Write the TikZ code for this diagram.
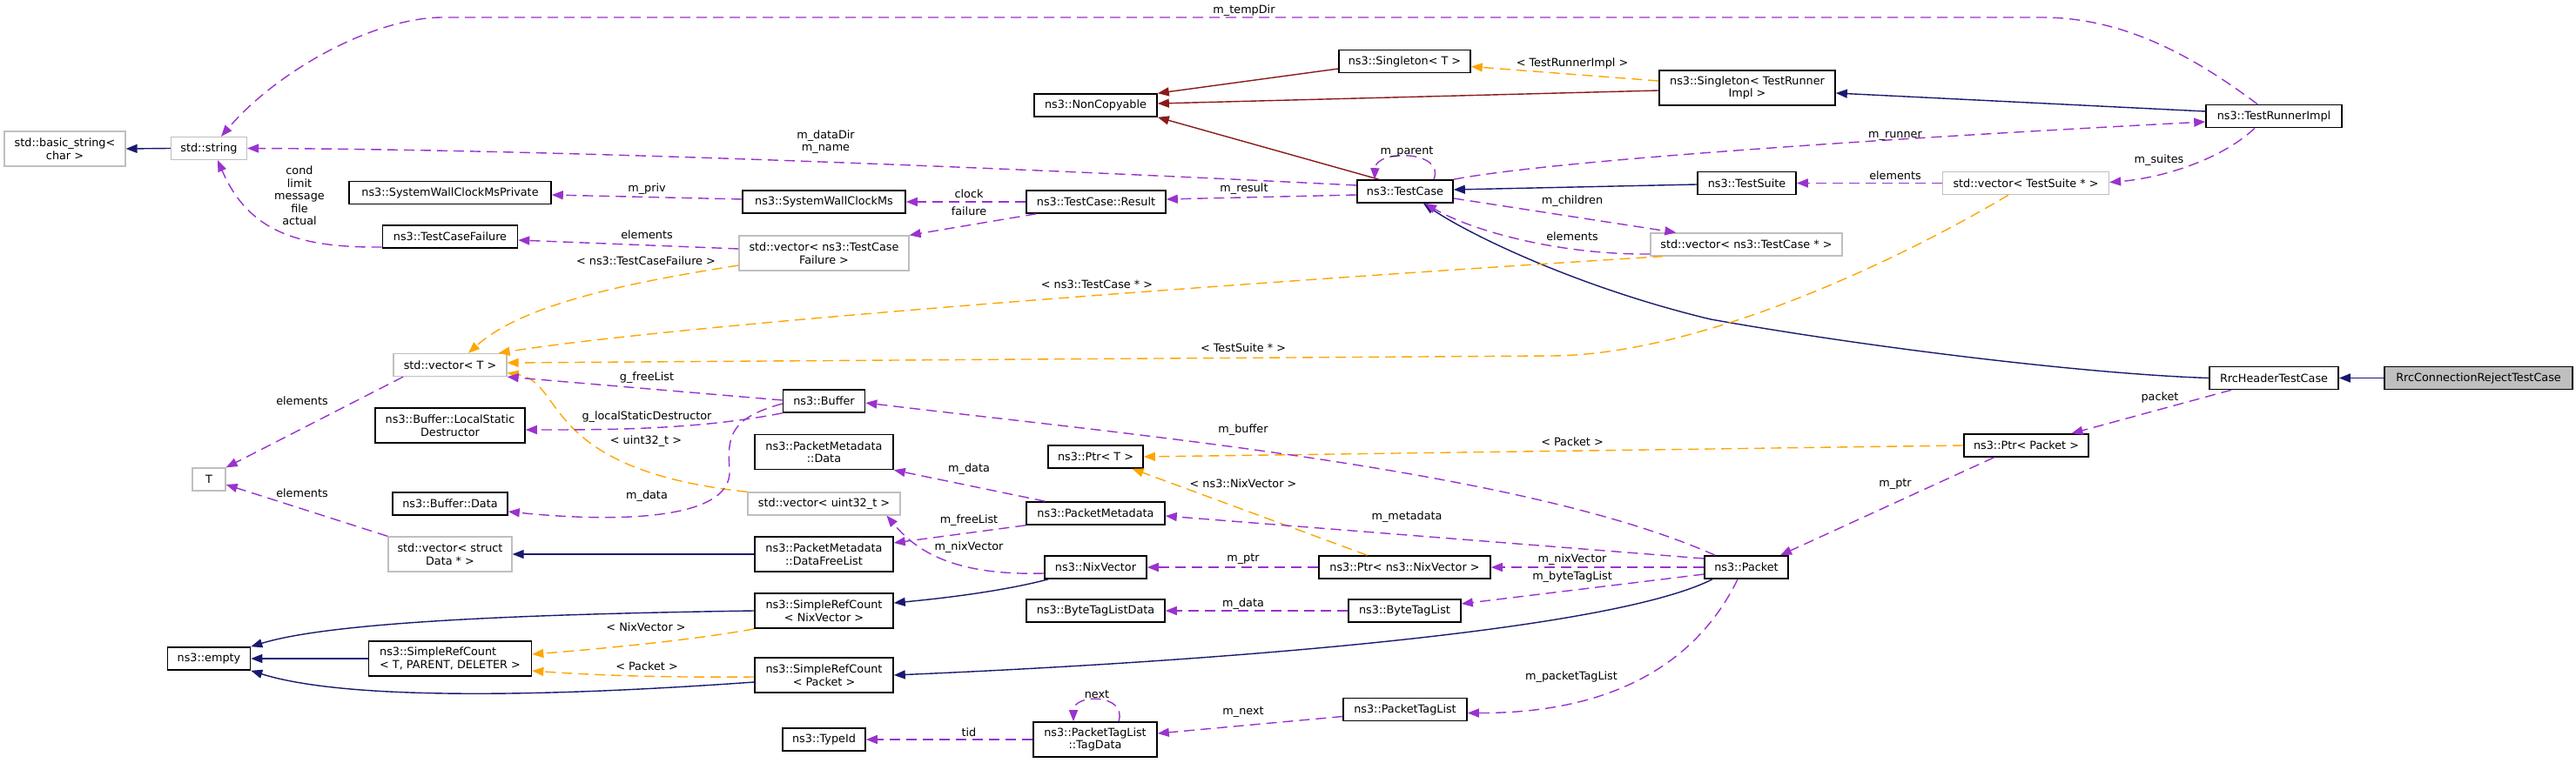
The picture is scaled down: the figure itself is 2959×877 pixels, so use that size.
\documentclass[tikz,border=0pt]{standalone}
\usepackage{fontspec}
\setmainfont{DejaVu Sans}
\usetikzlibrary{arrows.meta}

\definecolor{inhblue}{HTML}{191970}
\definecolor{privred}{HTML}{8B1A1A}
\definecolor{usepurple}{HTML}{9A32CD}
\definecolor{tplorange}{HTML}{FFA500}
\definecolor{extgray}{HTML}{BFBFBF}

\begin{document}
\begin{tikzpicture}[x=1pt, y=-1pt,
                every node/.style={align=center, inner sep=0pt, text=black,
                    font=\fontsize{12.8}{14.5}\selectfont},
                cls/.style={draw=black, line width=1.6pt, rectangle, minimum height=26pt},
                ext/.style={cls, draw=extgray, line width=1.3pt},
                two/.style={minimum height=40pt},
                lbl/.style={draw=none, fill=none},
                inh/.style={draw=inhblue, line width=1.4pt, -{Triangle[length=13pt,width=10pt]}},
                priv/.style={inh, draw=privred},
                dep/.style={inh, draw=usepurple, dash pattern=on 12pt off 7pt},
                tpl/.style={dep, draw=tplorange}
            ]

            \useasboundingbox[fill=white] (0,0) rectangle (2959,877);

            % Nodes
            \node[ext, two, minimum width=139] (basicStr) at (74.5,171) {std::basic\_string<\\char >};
            \node[ext, minimum width=87] (stdStr) at (240,170.5) {std::string};
            \node[cls, minimum width=141] (nonCopy) at (1258.5,121) {ns3::NonCopyable};
            \node[cls, minimum width=151] (singT) at (1613.5,70.5) {ns3::Singleton< T >};
            \node[cls, two, minimum width=202] (singTRI) at (2007,101) {ns3::Singleton< TestRunner\\Impl >};
            \node[cls, minimum width=156] (runner) at (2612,133.5) {ns3::TestRunnerImpl};
            \node[cls, minimum width=232] (swcmPriv) at (517,221.5) {ns3::SystemWallClockMsPrivate};
            \node[cls, minimum width=187] (swcm) at (946.5,232) {ns3::SystemWallClockMs};
            \node[cls, minimum width=160] (result) at (1259,232) {ns3::TestCase::Result};
            \node[cls, minimum width=110] (testCase) at (1614,220) {ns3::TestCase};
            \node[cls, minimum width=113] (testSuite) at (2006.5,210.5) {ns3::TestSuite};
            \node[ext, minimum width=191] (vecSuite) at (2327,210.5) {std::vector< TestSuite * >};
            \node[cls, minimum width=155] (tcFail) at (517,272) {ns3::TestCaseFailure};
            \node[ext, two, minimum width=195] (vecFail) at (946.5,291) {std::vector< ns3::TestCase\\Failure >};
            \node[ext, minimum width=220] (vecCase) at (2006,281) {std::vector< ns3::TestCase * >};
            \node[ext, minimum width=130] (vecT) at (517,419.5) {std::vector< T >};
            \node[cls, minimum width=148] (rrcHdr) at (2612,434.5) {RrcHeaderTestCase};
            \node[cls, fill=extgray, minimum width=216] (rrcRej) at (2847,434.5) {RrcConnectionRejectTestCase};
            \node[cls, minimum width=94] (buffer) at (946.5,461) {ns3::Buffer};
            \node[cls, two, minimum width=172] (lsd) at (517,489) {ns3::Buffer::LocalStatic\\Destructor};
            \node[ext, minimum width=38] (tBox) at (240,551) {T};
            \node[cls, two, minimum width=159] (pmData) at (946.5,519.5) {ns3::PacketMetadata\\::Data};
            \node[cls, minimum width=109] (ptrT) at (1258.5,525) {ns3::Ptr< T >};
            \node[cls, minimum width=143] (ptrPacket) at (2327.5,512) {ns3::Ptr< Packet >};
            \node[cls, minimum width=132] (bufData) at (517,579) {ns3::Buffer::Data};
            \node[ext, minimum width=175] (vecU32) at (946.5,579) {std::vector< uint32\_t >};
            \node[cls, minimum width=159] (pmeta) at (1258.5,590) {ns3::PacketMetadata};
            \node[ext, two, minimum width=142] (vecData) at (517,637) {std::vector< struct\\Data * >};
            \node[cls, two, minimum width=159] (dfl) at (946.5,637) {ns3::PacketMetadata\\::DataFreeList};
            \node[cls, minimum width=117] (nixVec) at (1258.5,652) {ns3::NixVector};
            \node[cls, minimum width=197] (ptrNix) at (1613.5,652) {ns3::Ptr< ns3::NixVector >};
            \node[cls, minimum width=96] (packet) at (2006,652) {ns3::Packet};
            \node[cls, two, minimum width=159] (srcNix) at (946.5,702) {ns3::SimpleRefCount\\< NixVector >};
            \node[cls, minimum width=159] (btlData) at (1258.5,702) {ns3::ByteTagListData};
            \node[cls, minimum width=129] (btl) at (1613.5,702) {ns3::ByteTagList};
            \node[cls, minimum width=95] (empty) at (240,757) {ns3::empty};
            \node[cls, two, minimum width=187, align=left] (srcT) at (517,757) {ns3::SimpleRefCount\\< T, PARENT, DELETER >};
            \node[cls, two, minimum width=159] (srcPacket) at (946.5,776) {ns3::SimpleRefCount\\< Packet >};
            \node[cls, minimum width=142] (ptl) at (1614,815.5) {ns3::PacketTagList};
            \node[cls, two, minimum width=142] (tagData) at (1258,850) {ns3::PacketTagList\\::TagData};
            \node[cls, minimum width=95] (typeId) at (946.5,850) {ns3::TypeId};

            % Edges: inheritance
            \draw[inh] (stdStr.west) -- (basicStr.east);
            \draw[inh] ([yshift=5.5]runner.west) -- ([yshift=-6]singTRI.east);
            \draw[inh] ([yshift=-1.5]testSuite.west) -- ([yshift=2]testCase.east);
            \draw[inh] (rrcHdr.west) .. controls (2400,430) and (2150,400) .. (1965,367)
                .. controls (1815,331) and (1690,271) .. ([xshift=21]testCase.south);
            \draw[inh] (rrcRej.west) -- (rrcHdr.east);
            \draw[inh] (dfl.west) -- (vecData.east);
            \draw[inh] ([xshift=5]nixVec.south west) .. controls (1150,680) and (1080,688) .. ([yshift=9]srcNix.east);
            \draw[inh] ([xshift=-39]packet.south) .. controls (1850,725) and (1400,760) .. (srcPacket.east);
            \draw[inh] (srcNix.west) .. controls (600,706) and (380,715) .. (empty.north east);
            \draw[inh] (srcT.west) -- (empty.east);
            \draw[inh] ([yshift=-8]srcPacket.west) .. controls (600,803) and (390,803) .. (empty.south east);
            \draw[priv] ([yshift=-8.5]singT.west) -- (nonCopy.north east);
            \draw[priv] ([yshift=-3]singTRI.west) -- ([yshift=2]nonCopy.east);
            \draw[priv] ([xshift=-30]testCase.north) -- (nonCopy.south east);

            % Edges: templates
            \draw[tpl] ([yshift=8]singTRI.west) -- ([yshift=-6]singT.east)
                node[lbl] (lSingT) at (1806,73) {< TestRunnerImpl >};
            \draw[tpl] ([yshift=-14]vecFail.west) .. controls (720,325) and (600,350) .. ([xshift=21]vecT.north)
                node[lbl] (lVecFail) at (742,300) {< ns3::TestCaseFailure >};
            \draw[tpl] ([xshift=15]vecCase.south west) .. controls (1500,320) and (800,370) .. ([xshift=-10]vecT.north east)
                node[lbl] (lVecCase) at (1260,327) {< ns3::TestCase * >};
            \draw[tpl] ([xshift=-20]vecSuite.south) .. controls (2180,300) and (1950,409) .. (1780,409)
                -- ([yshift=2.5]vecT.east)
                node[lbl] (lVecSuite) at (1428,400) {< TestSuite * >};
            \draw[tpl] (vecU32.north west) .. controls (620,540) and (650,440) .. ([yshift=-9]vecT.east)
                node[lbl] (lVecU32) at (742,507) {< uint32\_t >};
            \draw[tpl] (ptrPacket.west) -- (ptrT.east)
                node[lbl] (lPtrPacket) at (1806,508) {< Packet >};
            \draw[tpl] ([xshift=-43]ptrNix.north) -- ([xshift=42]ptrT.south)
                node[lbl] (lPtrNix) at (1428,556) {< ns3::NixVector >};
            \draw[tpl] (srcNix.south west) .. controls (800,735) and (700,745) .. ([yshift=5]srcT.east)
                node[lbl] (lSrcNix) at (742,721) {< NixVector >};
            \draw[tpl] ([yshift=-2]srcPacket.west) .. controls (760,779) and (680,776) .. ([yshift=-14]srcT.east)
                node[lbl] (lSrcPacket) at (743,766) {< Packet >};

            % Edges: members
            \draw[dep] ([xshift=-19]runner.north) .. controls (2520,65) and (2440,20) .. (2345,20)
                -- (509,20) .. controls (430,20) and (320,80) .. ([xshift=14]stdStr.north)
                node[lbl] (lTempDir) at (1429,12) {m\_tempDir};
            \draw[dep] ([yshift=7]testCase.west) .. controls (1300,200) and (700,172) .. (stdStr.east)
                node[lbl] (lDataDir) at (948.5,163) {m\_dataDir\\m\_name};
            \draw[dep] ([yshift=-4]testCase.west) -- ([yshift=3]result.east)
                node[lbl] (lResult) at (1429,217) {m\_result};
            \draw[dep] (result.west) -- (swcm.east)
                node[lbl] (lClock) at (1113,223) {clock};
            \draw[dep] ([xshift=12]result.south west) -- (vecFail.north east)
                node[lbl] (lFailure) at (1113,243) {failure};
            \draw[dep] ([yshift=3]swcm.west) -- ([yshift=-2.5]swcmPriv.east)
                node[lbl] (lPriv) at (743,217) {m\_priv};
            \draw[dep] ([yshift=5]vecFail.west) -- ([yshift=-4]tcFail.east)
                node[lbl] (lFailElem) at (743,270) {elements};
            \draw[dep] ([yshift=-12]tcFail.west) .. controls (340,285) and (285,265) .. ([xshift=10]stdStr.south)
                node[lbl] (lCond) at (344,225) {cond\\limit\\message\\file\\actual};
            \draw[dep] ([xshift=33]testCase.north) .. controls (1660,172) and (1580,172) .. ([xshift=-35]testCase.north)
                node[lbl] (lParent) at (1616,175) {m\_parent};
            \draw[dep] (testCase.north east) .. controls (1780,185) and (2150,160) .. ([yshift=-6.5]runner.west)
                node[lbl] (lRunner) at (2177,156) {m\_runner};
            \draw[dep] ([yshift=-8]testCase.east) -- ([xshift=30]vecCase.north west)
                node[lbl] (lChildren) at (1806,231) {m\_children};
            \draw[dep] ([yshift=-11]vecCase.west) .. controls (1790,293) and (1690,265) .. ([xshift=23]testCase.south)
                node[lbl] (lCaseElem) at (1806,272) {elements};
            \draw[dep] (vecSuite.west) -- (testSuite.east)
                node[lbl] (lSuiteElem) at (2177,202) {elements};
            \draw[dep] ([xshift=-22]runner.south) .. controls (2550,185) and (2480,205) .. ([yshift=1]vecSuite.east)
                node[lbl] (lSuites) at (2480,184) {m\_suites};
            \draw[dep] ([xshift=-54]vecT.south) -- (tBox.north east)
                node[lbl] (lTElem) at (347,461) {elements};
            \draw[dep] (vecData.north west) -- ([yshift=-6]tBox.east)
                node[lbl] (lDataElem) at (347,567) {elements};
            \draw[dep] ([yshift=1]buffer.west) -- (vecT.south east)
                node[lbl] (lFreeList) at (743,434) {g\_freeList};
            \draw[dep] (buffer.south west) .. controls (800,494) and (700,494) .. ([yshift=-5]lsd.east)
                node[lbl] (lLsd) at (743,479) {g\_localStaticDestructor};
            \draw[dep] ([yshift=-3]buffer.west) .. controls (840,480) and (835,500) .. (838,540)
                .. controls (842,600) and (700,600) .. ([yshift=-9]bufData.east)
                node[lbl] (lBufData) at (743,570) {m\_data};
            \draw[dep] ([xshift=-36]packet.north) .. controls (1750,540) and (1300,500) .. ([yshift=-2]buffer.east)
                node[lbl] (lBuffer) at (1428,494) {m\_buffer};
            \draw[dep] ([xshift=-58]pmeta.north) -- (pmData.south east)
                node[lbl] (lPmData) at (1113,539) {m\_data};
            \draw[dep] (pmeta.south west) -- ([yshift=13]dfl.east)
                node[lbl] (lFreeL) at (1113,598) {m\_freeList};
            \draw[dep] ([yshift=-7]nixVec.west) .. controls (1090,662) and (1050,630) .. ([xshift=72]vecU32.south)
                node[lbl] (lNixU32) at (1113,629) {m\_nixVector};
            \draw[dep] (ptrNix.west) -- (nixVec.east)
                node[lbl] (lNixPtr) at (1428,643) {m\_ptr};
            \draw[dep] (btl.west) -- (btlData.east)
                node[lbl] (lBtlData) at (1428,694) {m\_data};
            \draw[dep] ([yshift=-8]ptl.west) -- ([yshift=7]tagData.east)
                node[lbl] (lNext) at (1428,819) {m\_next};
            \draw[dep] ([xshift=27]tagData.north) .. controls (1295,797) and (1233,797) .. ([xshift=-25]tagData.north)
                node[lbl] (lTagNext) at (1260,798) {next};
            \draw[dep] (tagData.west) -- (typeId.east)
                node[lbl] (lTid) at (1113,842) {tid};
            \draw[dep] ([yshift=10]packet.west) -- ([yshift=-3]pmeta.east)
                node[lbl] (lMeta) at (1616,594) {m\_metadata};
            \draw[dep] (packet.west) -- (ptrNix.east)
                node[lbl] (lPktNix) at (1806,643) {m\_nixVector};
            \draw[dep] ([yshift=-8]packet.west) -- ([yshift=8]btl.east)
                node[lbl] (lByteTag) at (1806,663) {m\_byteTagList};
            \draw[dep] ([xshift=-10]packet.south) .. controls (1960,740) and (1880,820) .. ([yshift=-4]ptl.east)
                node[lbl] (lPktTag) at (1805,778) {m\_packetTagList};
            \draw[dep] ([xshift=-37]ptrPacket.south) -- ([xshift=39]packet.north)
                node[lbl] (lPtrPkt) at (2177,557) {m\_ptr};
            \draw[dep] ([xshift=-49]rrcHdr.south) -- ([xshift=52]ptrPacket.north)
                node[lbl] (lPacket) at (2481,457) {packet};

            \end{tikzpicture}
\end{document}
